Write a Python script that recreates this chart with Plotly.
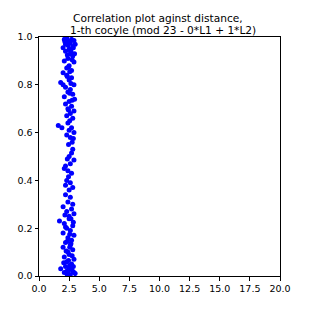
import plotly.graph_objects as go

# hand-read point positions (distance, correlation)
xs = [
    2.1, 2.3, 2.5, 2.7, 2.9, 2.2, 2.6, 2.8, 2.4, 2.0, 3.0, 2.5, 2.35, 2.65, 2.15, 2.85,
    2.2, 2.6, 2.8, 2.4, 2.1, 2.9, 2.5, 2.3, 2.7, 2.0, 2.6, 2.95, 2.35, 2.75, 2.45, 2.55,
    1.8, 2.3, 2.7, 2.5, 2.9, 2.2, 2.6, 2.4, 2.8, 2.1, 2.95, 2.65, 2.35, 2.55, 2.0,
    2.5, 2.2, 2.7, 2.4, 2.9, 2.6, 2.3, 2.8, 2.55, 2.45, 2.75,
    1.6, 1.9, 2.4, 2.7, 2.5, 2.9, 2.3, 2.6, 2.75, 2.45, 2.85,
    2.8, 2.5, 2.9, 2.6, 2.2, 2.7, 2.35,
    2.1, 2.4, 2.7, 2.3, 2.6, 2.2, 2.8, 2.5, 2.45,
    2.2, 2.6, 2.4, 2.0, 2.7, 2.3, 2.9, 2.5, 2.8, 2.15, 2.65,
    1.7, 2.1, 2.5, 2.8, 2.3, 2.6, 2.0, 2.9, 2.4, 2.7, 2.2, 2.55, 2.85, 2.35,
    2.2, 2.6, 2.0, 2.8, 2.4, 2.5, 2.1, 2.9, 2.3, 2.7, 2.55, 2.25, 2.75, 2.45, 2.65, 2.05,
    1.8, 2.2, 2.5, 2.8, 2.4, 2.6, 2.9, 2.3, 2.7, 3.0, 2.1, 2.55, 2.85, 2.45, 2.65, 2.35,
]
ys = [
    0.99, 0.995, 0.98, 0.99, 0.985, 0.97, 0.975, 0.96, 0.965, 0.955, 0.97, 0.95, 0.985, 0.94, 0.98, 0.955,
    0.94, 0.93, 0.92, 0.91, 0.90, 0.895, 0.88, 0.87, 0.86, 0.85, 0.945, 0.93, 0.925, 0.905, 0.875, 0.855,
    0.81, 0.84, 0.83, 0.82, 0.80, 0.79, 0.78, 0.77, 0.76, 0.75, 0.74, 0.805, 0.835, 0.765, 0.80,
    0.73, 0.72, 0.71, 0.70, 0.69, 0.68, 0.67, 0.66, 0.65, 0.695, 0.735,
    0.63, 0.62, 0.64, 0.62, 0.61, 0.60, 0.59, 0.58, 0.56, 0.55, 0.575,
    0.53, 0.50, 0.485, 0.47, 0.46, 0.515, 0.49,
    0.45, 0.44, 0.43, 0.40, 0.39, 0.38, 0.37, 0.36, 0.415,
    0.34, 0.33, 0.31, 0.29, 0.28, 0.27, 0.26, 0.25, 0.30, 0.255, 0.24,
    0.23, 0.22, 0.24, 0.21, 0.20, 0.19, 0.18, 0.17, 0.16, 0.15, 0.205, 0.175, 0.225, 0.145,
    0.14, 0.13, 0.12, 0.11, 0.10, 0.09, 0.08, 0.07, 0.06, 0.05, 0.12, 0.105, 0.085, 0.065, 0.135, 0.055,
    0.03, 0.04, 0.03, 0.02, 0.01, 0.005, 0.015, 0.02, 0.035, 0.01, 0.015, 0.045, 0.04, 0.025, 0.03, 0.005,
]

title_lines = ["Correlation plot aginst distance,", "1-th cocyle (mod 23 - 0*L1 + 1*L2)"]
x_ticks = [0.0, 2.5, 5.0, 7.5, 10.0, 12.5, 15.0, 17.5, 20.0]
y_ticks = [0.0, 0.2, 0.4, 0.6, 0.8, 1.0]

W = H = 311
L, R, T, B = 39, 31, 37, 35

fig = go.Figure(go.Scatter(
    x=xs, y=ys, mode="markers",
    marker=dict(color="#0000ff", size=5, line=dict(width=0)),
    cliponaxis=True,
))

axis_common = dict(
    showgrid=False, zeroline=False, showline=True, linecolor="black", linewidth=1,
    mirror=True, ticks="outside", ticklen=3.5, tickwidth=1, tickcolor="black",
    tickfont=dict(family="DejaVu Sans", size=9.5, color="black"),
    automargin=False,
)

# title lines placed by pixel centre
line_pos = [(157.5, 18.5), (163.0, 30.0)]
annotations = []
for txt, (px, py) in zip(title_lines, line_pos):
    annotations.append(dict(
        text=txt, xref="paper", yref="paper",
        x=(px - L) / (W - L - R), y=1 + (T - py) / (H - T - B),
        xanchor="center", yanchor="middle", showarrow=False,
        font=dict(family="DejaVu Sans", size=10.6, color="black"),
    ))

fig.update_layout(
    width=W, height=H,
    margin=dict(l=L, r=R, t=T, b=B, autoexpand=False),
    paper_bgcolor="white", plot_bgcolor="white",
    annotations=annotations,
    xaxis=dict(range=[0, 20], tickvals=x_ticks,
               ticktext=[f"{v:.1f}" for v in x_ticks], **axis_common),
    yaxis=dict(range=[0, 1], tickvals=y_ticks,
               ticktext=[f"{v:.1f}" for v in y_ticks], **axis_common),
    showlegend=False,
)

fig.write_html(
    "out.html",
    config={"displayModeBar": False},
    post_script="document.body.style.margin='0';document.body.style.overflow='hidden';",
)
